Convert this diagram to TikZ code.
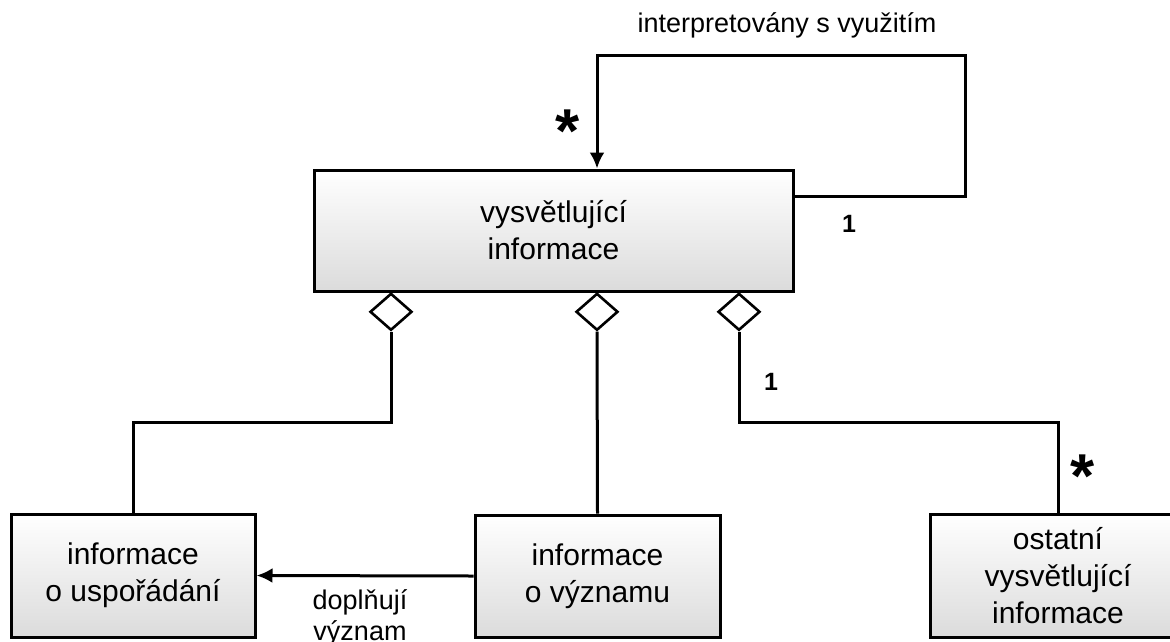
\documentclass[tikz,border=0pt]{standalone}
\usepackage{fontspec}
\setmainfont{Liberation Sans}
\usetikzlibrary{arrows.meta,shapes.geometric,calc}

\tikzset{
  classbox/.style={draw=black, line width=3pt, top color=white, bottom color=gray!28,
    align=center, inner sep=0pt, font=\fontsize{30}{37}\selectfont},
  aggdiamond/.style={draw=black, line width=2.6pt, fill=white, diamond,
    minimum width=42pt, minimum height=37pt, inner sep=0pt, anchor=north},
  link/.style={line width=3pt, line join=miter},
  arrowlink/.style={link, -{Latex[length=16pt,width=15pt]}},
  lbl/.style={font=\fontsize{27}{31}\selectfont, align=center, inner sep=0pt},
  mult/.style={font=\fontsize{25}{28}\selectfont\bfseries, inner sep=0pt},
  star/.style={font=\fontsize{62}{62}\selectfont\bfseries, inner sep=0pt, anchor=base}
}

\begin{document}
\begin{tikzpicture}[x=1pt,y=-1pt]
  \useasboundingbox (0,0) rectangle (1170,641);

  % classes
  \node[classbox, minimum width=479pt, minimum height=121pt] (expl) at (553.5,230.5)
    {vysvětlující\\informace};
  \node[classbox, minimum width=244pt, minimum height=123pt] (order) at (133,575.5)
    {informace\\o uspořádání};
  \node[classbox, minimum width=245pt, minimum height=122pt] (meaning) at (597.5,576)
    {informace\\o významu};
  \node[classbox, minimum width=256pt, minimum height=123pt] (other) at (1058,575.5)
    {ostatní\\vysvětlující\\informace};

  % aggregation diamonds on the lower edge of the whole
  \node[aggdiamond] (d1) at (391,292) {};
  \node[aggdiamond] (d2) at (597,292) {};
  \node[aggdiamond] (d3) at (739,292) {};

  % bend points of the routed connectors
  \coordinate (bend) at (0,422);
  \coordinate (loop) at (965,55);

  \draw[link] (d1.south) -- (d1.south |- bend) -| (order.north);
  \draw[link] (d2.south) -- (meaning.north);
  \draw[link] (d3.south) -- (d3.south |- bend) -| (other.north);

  % self association
  \draw[arrowlink] ([yshift=-28pt]expl.north east) -| (loop) -| (d2 |- expl.north);
  \node[lbl] (loopname) at (787,25) {interpretovány s využitím};
  \node[star] (s1) at (568,152) {*};
  \node[mult] (m1) at (849,224) {1};

  % meaning complements the ordering
  \draw[arrowlink] (meaning.west) -- (order.east);
  \node[lbl, anchor=north] (compl) at (360,589) {doplňují\\význam};

  % multiplicities of the third aggregation
  \node[mult] (m2) at (771,382) {1};
  \node[star] (s2) at (1083,497) {*};
\end{tikzpicture}
\end{document}
